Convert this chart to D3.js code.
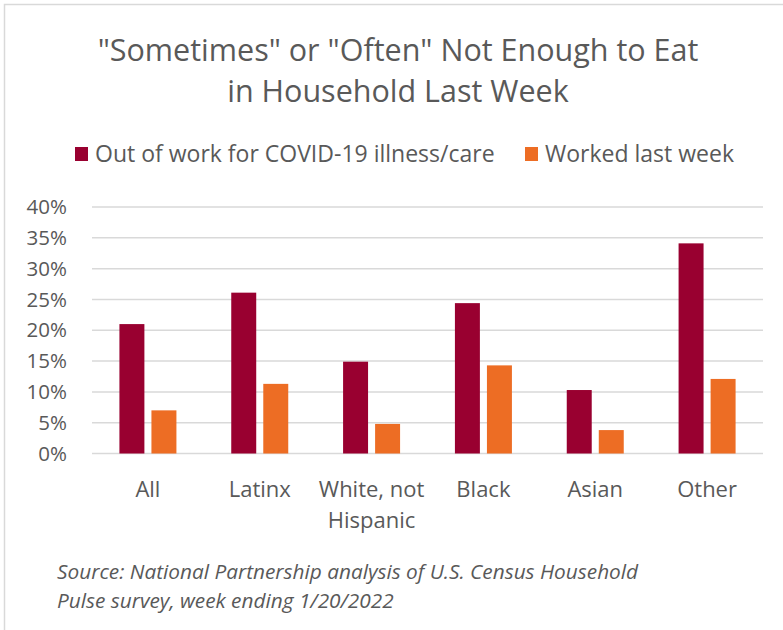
<!DOCTYPE html>
<html>
<head>
<meta charset="utf-8">
<script src="https://cdnjs.cloudflare.com/ajax/libs/d3/7.8.5/d3.min.js"></script>
<style>
  body { margin: 0; background: #fff; }
  text { font-family: "Open Sans", "Noto Sans", sans-serif; fill: #595959; }
</style>
</head>
<body>
<div class="chart"></div>
<script>
var categories = ["All", "Latinx", "White, not Hispanic", "Black", "Asian", "Other"];
var outOfWork = [0.210, 0.261, 0.149, 0.244, 0.103, 0.341];
var workedLastWeek = [0.070, 0.113, 0.048, 0.143, 0.038, 0.121];
var seriesNames = ["Out of work for COVID-19 illness/care", "Worked last week"];
var colors = ["#990030", "#ED6D24"];
var yTicks = [0, 0.05, 0.10, 0.15, 0.20, 0.25, 0.30, 0.35, 0.40];

var width = 783, height = 630;
var margin = { top: 207, right: 20, bottom: 177, left: 92 };

var svg = d3.select(".chart")
  .append("svg")
  .attr("width", width)
  .attr("height", height);

// outer border
svg.append("rect")
  .attr("x", 4.5).attr("y", 4.5)
  .attr("width", width + 10).attr("height", height + 10)
  .attr("fill", "none")
  .attr("stroke", "#d9d9d9")
  .attr("stroke-width", 1.5);

// title
svg.append("text")
  .attr("x", 398).attr("y", 61)
  .attr("text-anchor", "middle")
  .style("font-size", "30.5px")
  .text('"Sometimes" or "Often" Not Enough to Eat');
svg.append("text")
  .attr("x", 398).attr("y", 102)
  .attr("text-anchor", "middle")
  .style("font-size", "30.5px")
  .text("in Household Last Week");

// legend
var legendX = [75, 525];
seriesNames.forEach(function (name, i) {
  svg.append("rect")
    .attr("x", legendX[i]).attr("y", 147)
    .attr("width", 13).attr("height", 14)
    .attr("fill", colors[i]);
  svg.append("text")
    .attr("x", legendX[i] + 20).attr("y", 162)
    .style("font-size", "23px")
    .text(name);
});

var plotW = 763 - margin.left;
var plotH = 453.5 - margin.top;

var g = svg.append("g")
  .attr("transform", "translate(" + margin.left + "," + margin.top + ")");

var x0 = d3.scaleBand()
  .domain(categories)
  .range([0, plotW]);

var x1 = d3.scaleBand()
  .domain([0, 1])
  .range([x0.bandwidth() / 2 - 28.5, x0.bandwidth() / 2 + 28.5])
  .paddingInner(0.22);

var y = d3.scaleLinear()
  .domain([0, 0.4])
  .range([plotH, 0]);

// gridlines
g.append("g")
  .selectAll("line")
  .data(yTicks)
  .enter()
  .append("line")
  .attr("x1", 0).attr("x2", plotW)
  .attr("y1", d => y(d)).attr("y2", d => y(d))
  .attr("stroke", "#d9d9d9")
  .attr("stroke-width", 1.5);

// y axis labels
var yAxis = g.append("g")
  .call(d3.axisLeft(y).tickValues(yTicks).tickFormat(d3.format(".0%")).tickSize(0).tickPadding(25));
yAxis.select(".domain").remove();
yAxis.selectAll("text")
  .style("font-size", "20.5px")
  .style("font-family", '"Open Sans", sans-serif')
  .attr("fill", "#595959");

// bars
var rows = categories.map((c, i) => ({ cat: c, vals: [outOfWork[i], workedLastWeek[i]] }));

var groups = g.selectAll(".grp")
  .data(rows)
  .enter()
  .append("g")
  .attr("transform", d => "translate(" + x0(d.cat) + ",0)");

groups.selectAll("rect")
  .data(d => d.vals.map((v, i) => ({ i: i, v: v })))
  .enter()
  .append("rect")
  .attr("x", d => x1(d.i))
  .attr("width", x1.bandwidth())
  .attr("y", d => y(d.v))
  .attr("height", d => plotH - y(d.v))
  .attr("fill", d => colors[d.i]);

// x labels, wrapped
var xAxis = g.append("g")
  .attr("transform", "translate(0," + plotH + ")");
categories.forEach(function (c) {
  var lines = c === "White, not Hispanic" ? ["White, not", "Hispanic"] : [c];
  var t = xAxis.append("text")
    .attr("text-anchor", "middle")
    .style("font-size", "22px");
  lines.forEach(function (l, j) {
    t.append("tspan")
      .attr("x", x0(c) + x0.bandwidth() / 2)
      .attr("y", 43 + j * 31)
      .text(l);
  });
});

// source note
svg.append("text")
  .attr("x", 57).attr("y", 579)
  .style("font-size", "20.8px")
  .style("font-style", "italic")
  .text("Source: National Partnership analysis of U.S. Census Household");
svg.append("text")
  .attr("x", 57).attr("y", 608)
  .style("font-size", "20.8px")
  .style("font-style", "italic")
  .text("Pulse survey, week ending 1/20/2022");
</script>
</body>
</html>
